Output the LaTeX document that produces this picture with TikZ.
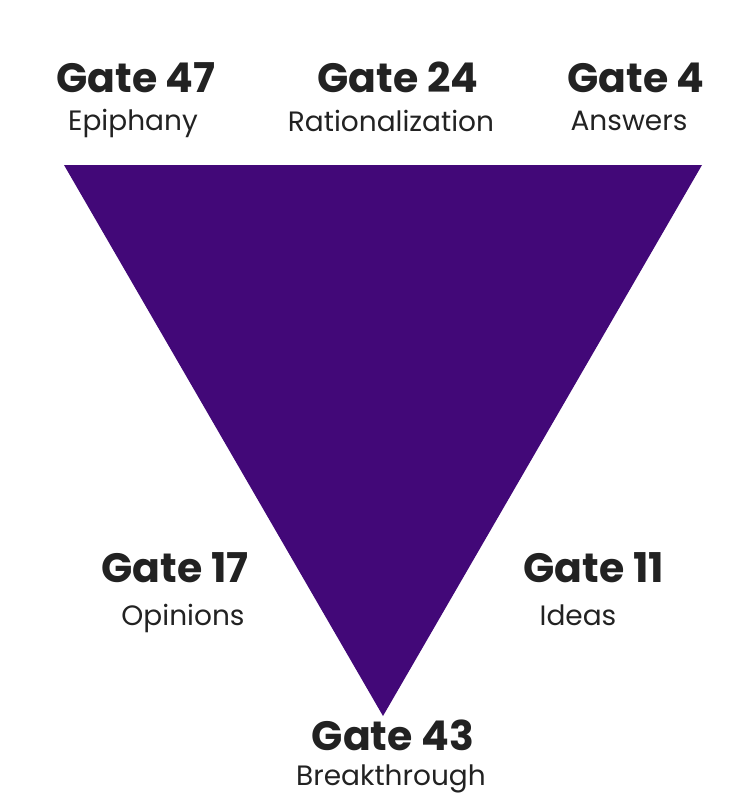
\documentclass[tikz,border=0pt]{standalone}
\usepackage{fontspec}
\setmainfont{Poppins}
\definecolor{tri}{RGB}{66,8,120}
\definecolor{txt}{RGB}{34,34,34}
\begin{document}
\begin{tikzpicture}[x=1pt,y=-1pt,
  gate/.style={anchor=base,inner sep=0pt,text=txt,font=\fontsize{41}{44}\selectfont\bfseries},
  sub/.style={anchor=base,inner sep=0pt,text=txt,font=\fontsize{28}{31}\selectfont}]
\useasboundingbox (0,0) rectangle (735,812);
\coordinate (tl) at (64,165);
\coordinate (tr) at (702,165);
\coordinate (bt) at (383,716);
\fill[tri] (tl) -- (tr) -- (bt) -- cycle;
\node[gate] (g47) at (136,92) {Gate 47};
\node[sub] (s47) at (133,130) {Epiphany};
\node[gate] (g24) at (398,92) {Gate 24};
\node[sub] (s24) at (391,131) {Rationalization};
\node[gate] (g4) at (636,92) {Gate 4};
\node[sub] (s4) at (629,130) {Answers};
\node[gate] (g17) at (175,582) {Gate 17};
\node[sub] (s17) at (183,625) {Opinions};
\node[gate] (g11) at (594,582) {Gate 11};
\node[sub] (s11) at (578,625) {Ideas};
\node[gate] (g43) at (393,750) {Gate 43};
\node[sub] (s43) at (391,785) {Breakthrough};
\end{tikzpicture}
\end{document}
